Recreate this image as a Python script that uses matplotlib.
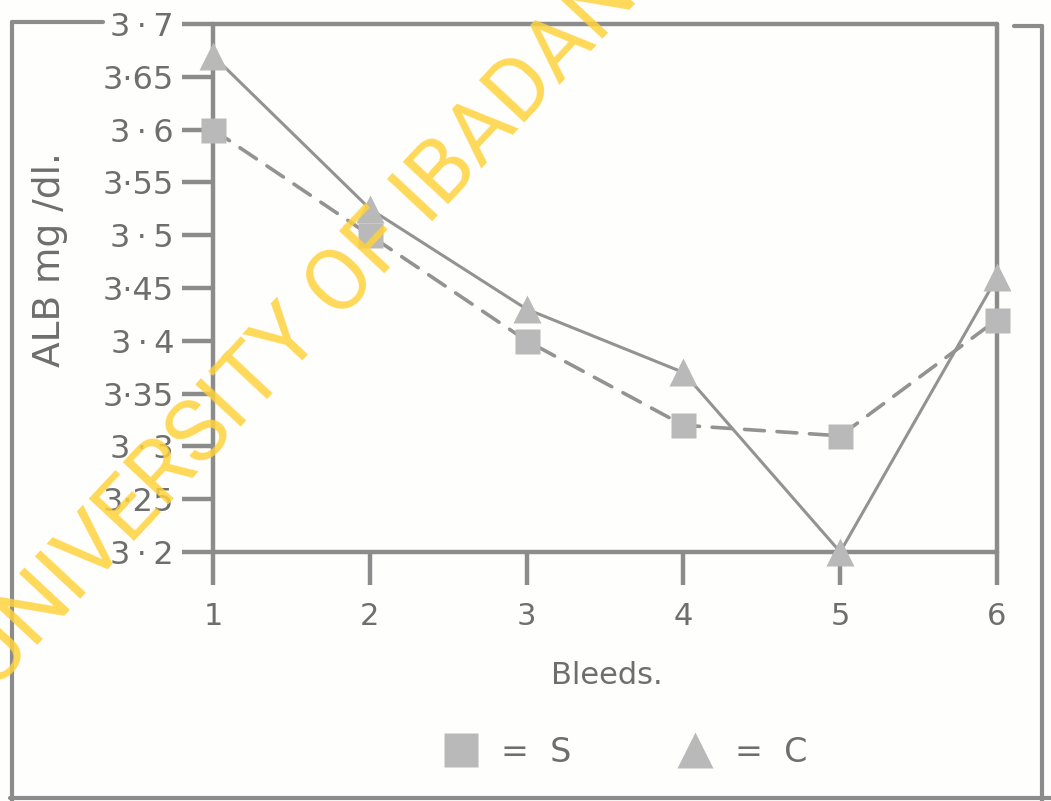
import matplotlib
matplotlib.use("Agg")
from matplotlib import pyplot as plt
from matplotlib.lines import Line2D

# albumin per bleed
bleeds = [1, 2, 3, 4, 5, 6]
alb_s = [3.60, 3.50, 3.40, 3.32, 3.31, 3.42]
alb_c = [3.67, 3.525, 3.43, 3.37, 3.20, 3.46]

y_ticks = [3.2, 3.25, 3.3, 3.35, 3.4, 3.45, 3.5, 3.55, 3.6, 3.65, 3.7]
y_labels = ["3\u2009·\u20092", "3·25", "3\u2009·\u20093", "3·35", "3\u2009·\u20094", "3·45",
            "3\u2009·\u20095", "3·55", "3\u2009·\u20096", "3·65", "3\u2009·\u20097"]

W, H = 1051, 801
ink = "#8c8c8c"
txt = "#6e6e6e"
mark = "#b9b9b9"

plt.rcParams['font.family'] = ['DejaVu Sans']

fig = plt.figure(figsize=(W / 100, H / 100), dpi=100, facecolor="#fefefc")
ax = fig.add_axes([213 / W, 1 - 552 / H, (997 - 213) / W, (552 - 24) / H])
ax.set_facecolor("#fefefc")

ax.plot(bleeds, alb_s, color="#939393", lw=2.6, dashes=(5.5, 3.5),
        dash_capstyle="round", zorder=2, clip_on=False)
ax.plot(bleeds, alb_c, color="#939393", lw=2.2, zorder=2, clip_on=False)
ax.plot(bleeds, alb_s, ls="none", marker="s", ms=18, mfc=mark, mec="none",
        zorder=3, clip_on=False)
ax.plot(bleeds, alb_c, ls="none", marker="^", ms=20, mfc=mark, mec="none",
        zorder=3, clip_on=False)

ax.set_xlim(1, 6)
ax.set_ylim(3.2, 3.7)
ax.set_xticks(bleeds)
ax.set_yticks(y_ticks)
ax.set_yticklabels(y_labels)

for s in ax.spines.values():
    s.set_color(ink)
    s.set_linewidth(3.2)
    s.set_capstyle("round")

ax.tick_params(axis="y", direction="out", length=22, width=3.2, color=ink,
               labelsize=23, labelcolor=txt, pad=6)
ax.tick_params(axis="x", direction="out", length=24, width=3.2, color=ink,
               labelsize=22, labelcolor=txt, pad=12)
for t in ax.get_xticklines() + ax.get_yticklines():
    t.set_solid_capstyle("round")

fig.text(50 / W, 1 - 260 / H, "ALB mg /dl.", rotation=90, ha="center", va="center",
         fontsize=27, color=txt)
fig.text(607 / W, 1 - 675 / H, "Bleeds.", ha="center", va="center",
         fontsize=22, color=txt)

# key under the plot
handles = [Line2D([], [], ls="none", marker="s", ms=24, mfc=mark, mec="none"),
           Line2D([], [], ls="none", marker="^", ms=26, mfc=mark, mec="none")]
fig.legend(handles, ["=  S", "=  C"], loc="center", bbox_to_anchor=(624 / W, 1 - 752 / H),
           ncol=2, frameon=False, fontsize=24, labelcolor=txt,
           handlelength=1.2, handletextpad=0.6, columnspacing=3.1)

# outer frame
def frame(xs, ys):
    fig.add_artist(Line2D([x / W for x in xs], [1 - y / H for y in ys],
                          color=ink, lw=3.0, solid_capstyle="round"))

frame([12, 12], [22, 801])
frame([12, 103], [22, 22])
frame([10, 1051], [798, 798])
frame([1042, 1042], [26, 801])
frame([1014, 1042], [26, 26])

fig.text(300 / W, 1 - 328 / H, "UNIVERSITY OF IBADAN", rotation=47, ha="center",
         va="center", fontsize=63, color="#ffd23c", alpha=0.85,
         family=["Roboto", "DejaVu Sans"], zorder=10)

fig.savefig("out.png", dpi=100, facecolor=fig.get_facecolor())
